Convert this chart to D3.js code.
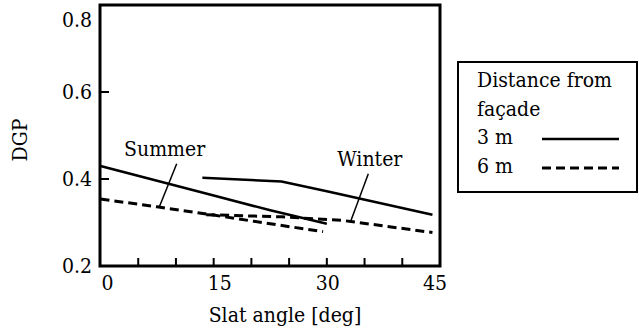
<!DOCTYPE html>
<html>
<head>
<meta charset="utf-8">
<script src="https://cdn.jsdelivr.net/npm/d3@7"></script>
<style>
	body { margin: 0; background: #fff; }
	svg text { font-family: "DejaVu Serif Condensed", "DejaVu Serif"; font-stretch: condensed; font-size: 21px; }
</style>
</head>
<body>
<div id="wrapper"></div>
<script>
// slat angle [deg] vs DGP
const summer3mAngle = [0, 7.5, 15, 22.5, 30];
const summer3mDgp = [0.430, 0.396, 0.362, 0.328, 0.297];
const winter3mAngle = [13.5, 24, 30, 44];
const winter3mDgp = [0.403, 0.394, 0.372, 0.318];
const summer6mAngle = [0, 7.5, 15, 22.5, 29.5];
const summer6mDgp = [0.354, 0.336, 0.317, 0.297, 0.279];
const winter6mAngle = [14, 24, 32, 44];
const winter6mDgp = [0.318, 0.313, 0.305, 0.277];

const xTickLabels = [0, 15, 30, 45];
const xMinorTicks = [5, 10, 15, 20, 25, 30, 35, 40];
const yTickLabels = [0.2, 0.4, 0.6, 0.8];
const yMinorTicks = [0.4, 0.6];

const legendTitle = ['Distance from', 'façade'];
const legendItems = ['3 m', '6 m'];

const dimensions = {
	width: 639,
	height: 333,
	margin: { top: 5, right: 199, bottom: 67, left: 100 }
};
dimensions.boundedWidth = dimensions.width - dimensions.margin.left - dimensions.margin.right;
dimensions.boundedHeight = dimensions.height - dimensions.margin.top - dimensions.margin.bottom;

const zip = (xs, ys) => xs.map((x, i) => ({ x: x, y: ys[i] }));
const series = [
	{ name: 'summer3', dash: null, points: zip(summer3mAngle, summer3mDgp) },
	{ name: 'winter3', dash: null, points: zip(winter3mAngle, winter3mDgp) },
	{ name: 'summer6', dash: '9,5', points: zip(summer6mAngle, summer6mDgp) },
	{ name: 'winter6', dash: '9,5', points: zip(winter6mAngle, winter6mDgp) }
];

const x = d3.scaleLinear().domain([0, 45]).range([0.5, dimensions.boundedWidth]);
const y = d3.scaleLinear().domain([0.2, 0.8]).range([dimensions.boundedHeight, 0]);

const svg = d3.select('#wrapper').append('svg')
	.attr('width', dimensions.width).attr('height', dimensions.height);
const bounds = svg.append('g').attr('transform', `translate(${dimensions.margin.left}, ${dimensions.margin.top})`);

// frame
bounds.append('rect')
	.attr('x', 0).attr('y', 0)
	.attr('width', dimensions.boundedWidth).attr('height', dimensions.boundedHeight)
	.attr('fill', 'none').attr('stroke', '#000').attr('stroke-width', 3);

// inward ticks
bounds.selectAll('.xtick').data(xMinorTicks).join('line')
	.attr('class', 'xtick')
	.attr('x1', (d) => x(d)).attr('x2', (d) => x(d))
	.attr('y1', dimensions.boundedHeight).attr('y2', dimensions.boundedHeight - 8)
	.attr('stroke', '#000').attr('stroke-width', 2);

bounds.selectAll('.ytick').data(yMinorTicks).join('line')
	.attr('class', 'ytick')
	.attr('x1', 0).attr('x2', 9)
	.attr('y1', (d) => y(d)).attr('y2', (d) => y(d))
	.attr('stroke', '#000').attr('stroke-width', 2);

// tick labels
const xNudge = { 0: 7, 15: 6, 30: 1, 45: -5 };
bounds.selectAll('.xlabel').data(xTickLabels).join('text')
	.attr('class', 'xlabel')
	.attr('x', (d) => x(d) + xNudge[d])
	.attr('y', dimensions.boundedHeight + 24)
	.attr('text-anchor', 'middle')
	.text((d) => d);

bounds.selectAll('.ylabel').data(yTickLabels).join('text')
	.attr('class', 'ylabel')
	.attr('x', -8)
	.attr('y', (d) => y(d))
	.attr('dy', (d) => (d === 0.8 ? '1.05em' : '0.33em'))
	.attr('text-anchor', 'end')
	.text((d) => d.toFixed(1));

// axis titles
bounds.append('text')
	.attr('x', dimensions.boundedWidth / 2 + 15)
	.attr('y', dimensions.boundedHeight + 56)
	.attr('text-anchor', 'middle')
	.text('Slat angle [deg]');

svg.append('text')
	.attr('transform', 'translate(27, 140) rotate(-90)')
	.attr('text-anchor', 'middle')
	.text('DGP');

// lines
const line = d3.line().x((d) => x(d.x)).y((d) => y(d.y));
bounds.selectAll('.series').data(series).join('path')
	.attr('class', 'series')
	.attr('d', (d) => line(d.points))
	.attr('fill', 'none')
	.attr('stroke', '#000')
	.attr('stroke-width', (d) => (d.dash ? 3 : 2.5))
	.attr('stroke-dasharray', (d) => d.dash);

// season annotations with leader lines
const annotations = [
	{ label: 'Summer', tx: 8.5, ty: 0.453, from: [10.1, 0.435], to: [7.75, 0.334] },
	{ label: 'Winter', tx: 35.7, ty: 0.430, from: [35.5, 0.412], to: [33.1, 0.300] }
];
bounds.selectAll('.leader').data(annotations).join('line')
	.attr('class', 'leader')
	.attr('x1', (d) => x(d.from[0])).attr('y1', (d) => y(d.from[1]))
	.attr('x2', (d) => x(d.to[0])).attr('y2', (d) => y(d.to[1]))
	.attr('stroke', '#000').attr('stroke-width', 1.5);
bounds.selectAll('.anno').data(annotations).join('text')
	.attr('class', 'anno')
	.attr('x', (d) => x(d.tx)).attr('y', (d) => y(d.ty))
	.attr('text-anchor', 'middle')
	.text((d) => d.label);

// legend
const legend = svg.append('g').attr('transform', 'translate(458, 62)');
legend.append('rect')
	.attr('width', 179).attr('height', 130)
	.attr('fill', 'none').attr('stroke', '#000').attr('stroke-width', 2);
legend.selectAll('.ltitle').data(legendTitle).join('text')
	.attr('class', 'ltitle')
	.attr('x', 19).attr('y', (d, i) => 25 + i * 28.5)
	.text((d) => d);
legend.selectAll('.litem').data(legendItems).join('text')
	.attr('class', 'litem')
	.attr('x', 19).attr('y', (d, i) => 82 + i * 28.5)
	.text((d) => d);
legend.selectAll('.lline').data(legendItems).join('line')
	.attr('class', 'lline')
	.attr('x1', 84).attr('x2', 161)
	.attr('y1', (d, i) => 77 + i * 29).attr('y2', (d, i) => 77 + i * 29)
	.attr('stroke', '#000')
	.attr('stroke-width', (d, i) => (i ? 3 : 2.5))
	.attr('stroke-dasharray', (d, i) => (i ? '9,5' : null));
</script>
</body>
</html>
